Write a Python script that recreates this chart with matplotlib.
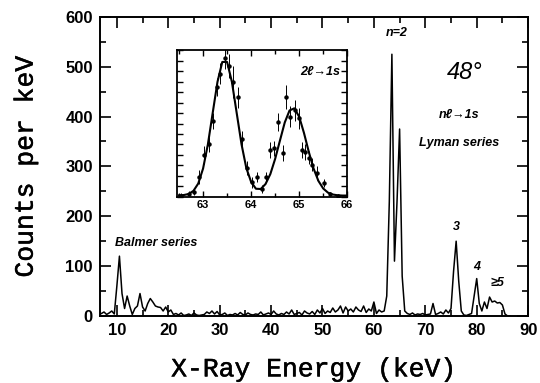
"""Muonic X-ray spectrum at 48 degrees with an inset of the 2l->1s doublet."""

import matplotlib

matplotlib.use("Agg")

import matplotlib.patheffects as pe
import matplotlib.pyplot as plt
import numpy as np
from matplotlib.ticker import MultipleLocator

# main spectrum, 0.5 keV bins starting at 7.0 keV
bin_start = 7.0
bin_width = 0.5
counts = [
    5, 8, 3, 6, 10, 4, 60, 120, 45, 15,          # 7.0 - 11.5
    40, 20, 3, 15, 20, 45, 18, 10, 25, 35,       # 12.0 - 16.5
    28, 20, 18, 17, 10, 18, 8, 12, 3, 5,         # 17.0 - 21.5
    2, 6, 1, 2, 4, 1, 6, 2, 1, 2,                # 22.0 - 26.5
    3, 8, 5, 10, 4, 9, 2, 3, 6, 1,               # 27.0 - 31.5
    3, 2, 5, 2, 7, 3, 2, 6, 3, 2,                # 32.0 - 36.5
    4, 3, 8, 2, 4, 6, 3, 10, 4, 2,               # 37.0 - 41.5
    5, 3, 8, 4, 12, 3, 5, 7, 2, 10,              # 42.0 - 46.5
    6, 4, 9, 3, 12, 6, 15, 5, 10, 7,             # 47.0 - 51.5
    16, 8, 12, 20, 6, 18, 10, 14, 8, 18,         # 52.0 - 56.5
    12, 9, 20, 7, 14, 10, 28, 5, 12, 8,          # 57.0 - 61.5
    10, 40, 230, 525, 110, 230, 375, 80, 10, 5,  # 62.0 - 66.5
    3, 6, 2, 4, 3, 5, 2, 3, 4, 25,               # 67.0 - 71.5
    3, 5, 8, 4, 12, 6, 15, 90, 150, 70,          # 72.0 - 76.5
    10, 2, 1, 3, 5, 40, 75, 25, 10, 28,          # 77.0 - 81.5
    15, 38, 28, 30, 26, 27, 22, 4, 0, 0,         # 82.0 - 86.5
]

# inset: fitted doublet curve and measured points
fit_e = [
    62.5, 62.6, 62.7, 62.8, 62.9, 63.0, 63.1, 63.2, 63.3, 63.4,
    63.5, 63.6, 63.7, 63.8, 63.9, 64.0, 64.1, 64.2, 64.3, 64.4,
    64.5, 64.6, 64.7, 64.8, 64.9, 65.0, 65.1, 65.2, 65.3, 65.4,
    65.5, 65.6, 65.7, 65.8, 65.9, 66.0,
]
fit_counts = [
    6, 7, 11, 23, 51, 108, 200, 320, 439, 515,
    515, 439, 320, 201, 110, 57, 31, 30, 49, 87,
    145, 215, 284, 330, 338, 306, 244, 172, 108, 61,
    32, 16, 9, 6, 5, 5,
]
pts_e = [
    62.55, 62.70, 62.82, 62.92, 63.02, 63.12, 63.20, 63.28, 63.36, 63.45,
    63.55, 63.62, 63.72, 63.80, 63.92, 64.02, 64.13, 64.22, 64.31, 64.40,
    64.48, 64.55, 64.67, 64.73, 64.81, 64.92, 65.00, 65.06, 65.13, 65.20,
    65.27, 65.38, 65.52, 65.65, 65.80,
]
pts_counts = [
    5, 12, 20, 76, 160, 200, 290, 420, 470, 530,
    500, 438, 381, 220, 110, 55, 76, 30, 76, 179,
    185, 286, 168, 381, 305, 331, 300, 179, 171, 150,
    122, 91, 53, 12, 5,
]
pts_err = [
    8, 10, 12, 25, 35, 30, 30, 35, 40, 40,
    45, 60, 40, 30, 25, 20, 20, 15, 20, 30,
    30, 35, 30, 45, 40, 40, 40, 30, 30, 25,
    25, 25, 15, 8, 5,
]

energy = bin_start + bin_width * np.arange(len(counts))

label_font = "Liberation Mono"
tick_font = "Liberation Sans"
# regular mono is a bit thin next to the scanned original, thicken it slightly
heavier = [pe.withStroke(linewidth=0.35, foreground="black")]

fig = plt.figure(figsize=(5.4, 3.83), dpi=100)
ax = fig.add_axes([0.185, 0.175, 0.793, 0.781])
ax.plot(energy, counts, color="black", lw=1.1)
ax.set_xlim(6.7, 90)
ax.set_ylim(0, 600)
ax.xaxis.set_major_locator(MultipleLocator(10))
ax.xaxis.set_minor_locator(MultipleLocator(5))
ax.yaxis.set_major_locator(MultipleLocator(100))
ax.yaxis.set_minor_locator(MultipleLocator(50))
ax.tick_params(which="both", direction="in", top=True, right=True, width=1.2)
ax.tick_params(which="major", length=8, pad=5)
ax.tick_params(which="minor", length=4)
for lab in ax.get_xticklabels() + ax.get_yticklabels():
    lab.set_fontfamily(tick_font)
    lab.set_fontweight("bold")
    lab.set_fontsize(12)
for sp in ax.spines.values():
    sp.set_linewidth(1.4)
ax.set_xlabel("X-Ray Energy (keV)", fontfamily=label_font, fontsize=19,
              labelpad=14, path_effects=heavier)
ax.set_ylabel("Counts per keV", fontfamily=label_font, fontsize=19,
              labelpad=20, path_effects=heavier)

note = dict(fontfamily=tick_font, fontstyle="italic", fontweight="bold", fontsize=9)
ax.text(64.4, 568, "n=2", ha="center", va="center", **note)
ax.text(77.7, 488, "48°", ha="center", va="center", fontfamily=tick_font,
        fontstyle="italic", fontsize=17)
ax.text(76.6, 404, "nℓ→1s", ha="center", va="center", **note)
ax.text(76.6, 346, "Lyman series", ha="center", va="center", **note)
ax.text(76.1, 178, "3", ha="center", va="center", **note)
ax.text(80.0, 98, "4", ha="center", va="center", **note)
ax.text(84.0, 66, "≥5", ha="center", va="center", **note)
ax.text(9.6, 146, "Balmer series", ha="left", va="center", **note)

ins = fig.add_axes([0.328, 0.486, 0.315, 0.383])
ins.plot(fit_e, fit_counts, color="black", lw=1.5)
ins.errorbar(pts_e, pts_counts, yerr=pts_err, fmt="o", ms=2.2, color="black",
             elinewidth=0.7, capsize=0)
ins.set_xlim(62.46, 66)
ins.set_ylim(0, 560)
ins.xaxis.set_major_locator(MultipleLocator(1))
ins.xaxis.set_minor_locator(MultipleLocator(0.5))
ins.yaxis.set_major_locator(MultipleLocator(40))
ins.set_yticklabels([])
ins.tick_params(which="both", direction="in", top=True, right=True, width=1.0)
ins.tick_params(which="major", length=4, pad=2)
ins.tick_params(which="minor", length=3)
for lab in ins.get_xticklabels():
    lab.set_fontfamily(tick_font)
    lab.set_fontweight("bold")
    lab.set_fontsize(8)
for sp in ins.spines.values():
    sp.set_linewidth(1.3)
ins.text(65.44, 476, "2ℓ→1s", ha="center", va="center", **note)

fig.savefig("out.png", dpi=100)
